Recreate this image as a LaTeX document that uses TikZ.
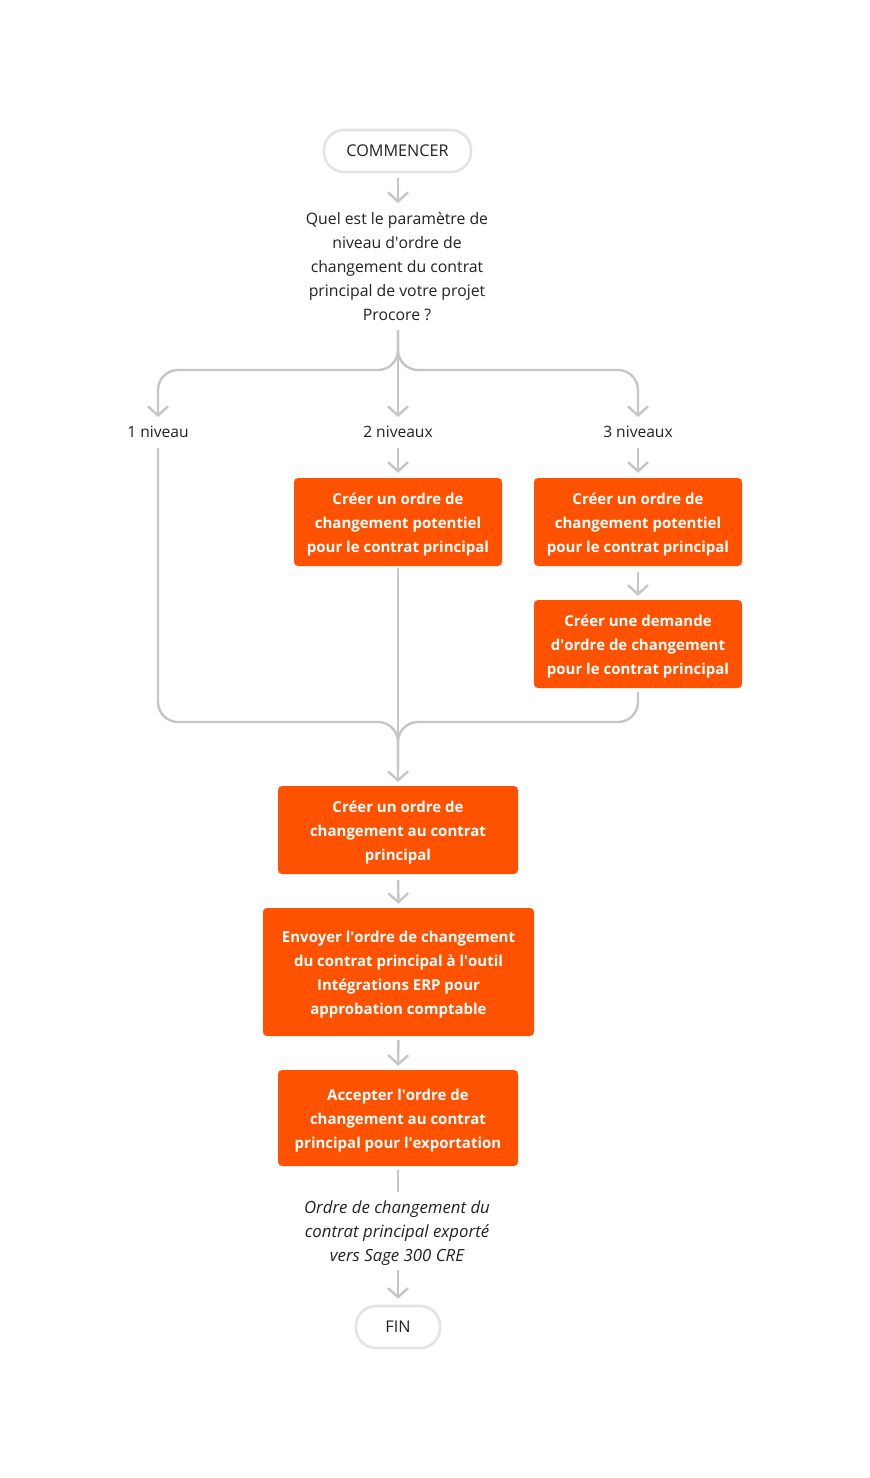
\documentclass[tikz,border=0pt]{standalone}
\usepackage{fontspec}
\setmainfont{Open Sans}
\usetikzlibrary{arrows.meta}
\definecolor{procore}{HTML}{FF5200}
\definecolor{linegray}{HTML}{C6C6C6}
\definecolor{pillgray}{HTML}{E4E4E4}
\definecolor{txt}{HTML}{222222}
\newcommand\tstrut{\rule{0pt}{18pt}}
\newcommand\bstrut{\rule[-6pt]{0pt}{6pt}}
\newcommand\apo{\textquotesingle}
\tikzset{
  pill/.style={draw=pillgray, line width=2.6pt, fill=white, rounded corners=20pt,
    minimum height=42pt, text=txt, font=\fontsize{16.2}{24}\selectfont, inner sep=0pt},
  obox/.style={fill=procore, rounded corners=4pt, text=white, align=center,
    font=\fontsize{15}{24}\selectfont\bfseries, inner sep=0pt},
  plain/.style={text=txt, align=center, font=\fontsize{15.8}{24}\selectfont, inner sep=0pt},
  lbl/.style={text=txt, font=\fontsize{15.6}{24}\selectfont, inner sep=0pt},
  conn/.style={draw=linegray, line width=2.4pt, rounded corners=20pt},
  arr/.style={conn, -{Straight Barb[length=9pt,width=20pt,line width=2.4pt]}},
}
\begin{document}
\begin{tikzpicture}[x=1pt,y=-1pt]
\useasboundingbox (0,0) rectangle (870,1478);
\fill[white] (0,0) rectangle (870,1478);

% nodes
\node[pill, minimum width=147pt] (start) at (397.5,151) {COMMENCER};
\node[plain] (q) at (397,266) {\tstrut Quel est le paramètre de\\niveau d\apo ordre de\\changement du contrat\\principal de votre projet\\Procore ?\bstrut};
\node[lbl] (l1) at (158,432) {1 niveau};
\node[lbl] (l2) at (398,432) {2 niveaux};
\node[lbl] (l3) at (638,432) {3 niveaux};
\node[obox, minimum width=208pt, minimum height=88pt] (a) at (398,522) {\tstrut Créer un ordre de\\changement potentiel\\pour le contrat principal\bstrut};
\node[obox, minimum width=208pt, minimum height=88pt] (b) at (638,522) {\tstrut Créer un ordre de\\changement potentiel\\pour le contrat principal\bstrut};
\node[obox, minimum width=208pt, minimum height=88pt] (c) at (638,644) {\tstrut Créer une demande\\d\apo ordre de changement\\pour le contrat principal\bstrut};
\node[obox, minimum width=240pt, minimum height=88pt] (d) at (398,830) {\tstrut Créer un ordre de\\changement au contrat\\principal\bstrut};
\node[obox, minimum width=271pt, minimum height=128pt] (e) at (398.5,972) {\tstrut Envoyer l\apo ordre de changement\\du contrat principal à l\apo outil\\Intégrations ERP pour\\approbation comptable\bstrut};
\node[obox, minimum width=240pt, minimum height=96pt] (f) at (398,1118) {\tstrut Accepter l\apo ordre de\\changement au contrat\\principal pour l\apo exportation\bstrut};
\node[plain, font=\fontsize{16.8}{24}\selectfont\itshape] (exp) at (397,1231) {\tstrut Ordre de changement du\\contrat principal exporté\\vers Sage 300 CRE\bstrut};
\node[pill, minimum width=84pt] (fin) at (398,1327) {FIN};

% helper coordinates
\coordinate (s1) at (398,178);
\coordinate (qtop) at (398,203);
\coordinate (qbot) at (398,330);
\coordinate (l1top) at (158,417);
\coordinate (l2top) at (398,417);
\coordinate (l3top) at (638,417);
\coordinate (l1bot) at (158,448);
\coordinate (l2bot) at (398,448);
\coordinate (l3bot) at (638,448);
\coordinate (jl) at (158,722);
\coordinate (jr) at (638,722);
\coordinate (jm) at (398,722);
\coordinate (dtop) at (398,782);
\coordinate (expbot) at (398,1192);
\coordinate (exptop) at (398,1270);

% connectors
\draw[arr] (s1) -- (qtop);
\draw[arr] (qbot) -- (398,370) -- (158,370) -- (l1top);
\draw[arr] (qbot) -- (398,370) -- (638,370) -- (l3top);
\draw[arr] (qbot) -- (l2top);
\draw[arr, shorten >=5pt] (l2bot) -- (a.north);
\draw[arr, shorten >=5pt] (l3bot) -- (b.north);
\draw[arr, shorten >=4pt, shorten <=6pt] (b.south) -- (c.north);
\draw[conn] (l1bot) -- (jl) -- (jm) -- (398,770);
\draw[conn, shorten <=4pt] (c.south) -- (jr) -- (jm) -- (398,770);
\draw[arr, shorten <=2pt] (a.south) -- (dtop);
\draw[arr, shorten >=4pt, shorten <=6pt] (d.south) -- (e.north);
\draw[arr, shorten >=4pt, shorten <=4pt] (e.south) -- (f.north);
\draw[conn, shorten <=4pt] (f.south) -- (expbot);
\draw[arr, shorten >=6pt] (exptop) -- (fin.north);
\end{tikzpicture}
\end{document}
